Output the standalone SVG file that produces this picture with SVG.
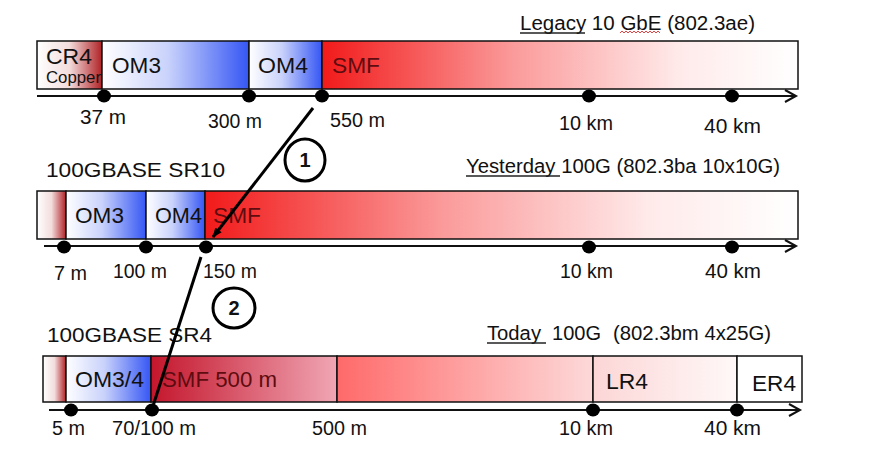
<svg xmlns="http://www.w3.org/2000/svg" width="874" height="466" viewBox="0 0 874 466">
  <defs>
    <linearGradient id="gCu" x1="0" y1="0" x2="1" y2="0">
      <stop offset="0" stop-color="#ffffff"/>
      <stop offset="0.5" stop-color="#f3dcdc"/>
      <stop offset="1" stop-color="#b02226"/>
    </linearGradient>
    <linearGradient id="gOM" x1="0" y1="0" x2="1" y2="0">
      <stop offset="0" stop-color="#ffffff"/>
      <stop offset="0.45" stop-color="#c9d2fb"/>
      <stop offset="1" stop-color="#3556f4"/>
    </linearGradient>
    <linearGradient id="gSMF" x1="0" y1="0" x2="1" y2="0">
      <stop offset="0" stop-color="#f21a1a"/>
      <stop offset="0.4" stop-color="#fb9a9a"/>
      <stop offset="0.75" stop-color="#ffeaea"/>
      <stop offset="1" stop-color="#ffffff"/>
    </linearGradient>
    <linearGradient id="gSMF500" x1="0" y1="0" x2="1" y2="0">
      <stop offset="0" stop-color="#c4162c"/>
      <stop offset="1" stop-color="#f0a6b4"/>
    </linearGradient>
    <linearGradient id="gMid" x1="0" y1="0" x2="1" y2="0">
      <stop offset="0" stop-color="#ff6a6a"/>
      <stop offset="1" stop-color="#fdd9d9"/>
    </linearGradient>
    <linearGradient id="gLR" x1="0" y1="0" x2="1" y2="0">
      <stop offset="0" stop-color="#fcd6d6"/>
      <stop offset="1" stop-color="#fff8f8"/>
    </linearGradient>
    <marker id="ah" viewBox="0 0 10 10" refX="9" refY="5" markerWidth="10" markerHeight="10" markerUnits="userSpaceOnUse" orient="auto">
      <path d="M0,1 L10,5 L0,9 Z" fill="#000"/>
    </marker>
  </defs>
  <style>
    text { font-family: "Liberation Sans", Arial, sans-serif; fill: #111; }
    .seg { stroke: #111; stroke-width: 1.5; }
    .axis { stroke: #111; stroke-width: 2; fill: none; }
    .dot { fill: #000; }
    .lbl { font-size: 20px; }
    .bar { font-size: 22px; }
    .ttl { font-size: 20px; }
    .ul { stroke: #222; stroke-width: 1.3; }
    .smf { fill: #5e0c10; }
    .conn { stroke: #000; stroke-width: 3; fill: none; }
    .badge { fill: #fff; stroke: #000; stroke-width: 3; }
    .num { font-size: 20px; font-weight: bold; text-anchor: middle; }
  </style>

  <!-- Row 1: Legacy 10 GbE -->
  <g id="row-legacy">
    <g id="legacy-title">
      <text class="ttl" x="520" y="30" textLength="235" lengthAdjust="spacingAndGlyphs">Legacy 10 GbE (802.3ae)</text>
      <line class="ul" x1="520" y1="33" x2="585" y2="33"/>
      <path d="M620,33 l2,-2 l2,2 l2,-2 l2,2 l2,-2 l2,2 l2,-2 l2,2 l2,-2 l2,2 l2,-2 l2,2 l2,-2 l2,2 l2,-2 l2,2 l2,-2 l2,2 l2,-2 l2,2" fill="none" stroke="#e03030" stroke-width="0.9"/>
    </g>
    <g id="legacy-cr4">
      <rect class="seg" x="37" y="41" width="65" height="48" fill="url(#gCu)"/>
      <text class="bar" x="46" y="64" textLength="46" lengthAdjust="spacingAndGlyphs">CR4</text>
      <text x="46" y="83" font-size="16" textLength="55" lengthAdjust="spacingAndGlyphs">Copper</text>
    </g>
    <g id="legacy-om3">
      <rect class="seg" x="102" y="41" width="147" height="48" fill="url(#gOM)"/>
      <text class="bar" x="112" y="73" textLength="49" lengthAdjust="spacingAndGlyphs">OM3</text>
    </g>
    <g id="legacy-om4">
      <rect class="seg" x="249" y="41" width="73" height="48" fill="url(#gOM)"/>
      <text class="bar" x="258" y="73" textLength="50" lengthAdjust="spacingAndGlyphs">OM4</text>
    </g>
    <g id="legacy-smf">
      <rect class="seg" x="322" y="41" width="476" height="48" fill="url(#gSMF)"/>
      <text class="bar smf" x="332" y="73" textLength="48" lengthAdjust="spacingAndGlyphs">SMF</text>
    </g>
    <g id="legacy-axis">
      <line class="axis" x1="37" y1="96" x2="796" y2="96"/>
      <polyline class="axis" points="785,90 796,96 785,102"/>
      <ellipse class="dot" cx="104" cy="96" rx="7" ry="6.5"/>
      <ellipse class="dot" cx="249" cy="96" rx="7" ry="6.5"/>
      <ellipse class="dot" cx="322" cy="96" rx="7" ry="6.5"/>
      <ellipse class="dot" cx="589" cy="96" rx="7" ry="6.5"/>
      <ellipse class="dot" cx="732" cy="96" rx="7" ry="6.5"/>
      <text class="lbl" x="80" y="124" textLength="46" lengthAdjust="spacingAndGlyphs">37 m</text>
      <text class="lbl" x="208" y="128" textLength="54" lengthAdjust="spacingAndGlyphs">300 m</text>
      <text class="lbl" x="330" y="127" textLength="55" lengthAdjust="spacingAndGlyphs">550 m</text>
      <text class="lbl" x="559" y="130" textLength="54" lengthAdjust="spacingAndGlyphs">10 km</text>
      <text class="lbl" x="704" y="133" textLength="57" lengthAdjust="spacingAndGlyphs">40 km</text>
    </g>
  </g>

  <!-- Row 2: Yesterday 100G SR10 -->
  <g id="row-sr10">
    <g id="sr10-title">
      <text class="ttl" x="46" y="177" textLength="179" lengthAdjust="spacingAndGlyphs">100GBASE SR10</text>
      <text class="ttl" x="466" y="173" textLength="314" lengthAdjust="spacingAndGlyphs">Yesterday 100G (802.3ba 10x10G)</text>
      <line class="ul" x1="466" y1="176" x2="560" y2="176"/>
    </g>
    <g id="sr10-cu">
      <rect class="seg" x="37" y="191" width="29" height="48" fill="url(#gCu)"/>
    </g>
    <g id="sr10-om3">
      <rect class="seg" x="66" y="191" width="80" height="48" fill="url(#gOM)"/>
      <text class="bar" x="75" y="223" textLength="49" lengthAdjust="spacingAndGlyphs">OM3</text>
    </g>
    <g id="sr10-om4">
      <rect class="seg" x="146" y="191" width="59" height="48" fill="url(#gOM)"/>
      <text class="bar" x="155" y="223" textLength="47" lengthAdjust="spacingAndGlyphs">OM4</text>
    </g>
    <g id="sr10-smf">
      <rect class="seg" x="205" y="191" width="593" height="48" fill="url(#gSMF)"/>
      <text class="bar smf" x="213" y="223" textLength="48" lengthAdjust="spacingAndGlyphs">SMF</text>
    </g>
    <g id="sr10-axis">
      <line class="axis" x1="44" y1="246" x2="796" y2="246"/>
      <polyline class="axis" points="785,240 796,246 785,252"/>
      <ellipse class="dot" cx="64" cy="247" rx="7" ry="6.5"/>
      <ellipse class="dot" cx="146" cy="247" rx="7" ry="6.5"/>
      <ellipse class="dot" cx="206" cy="247" rx="7" ry="6.5"/>
      <ellipse class="dot" cx="589" cy="247" rx="7" ry="6.5"/>
      <ellipse class="dot" cx="732" cy="247" rx="7" ry="6.5"/>
      <text class="lbl" x="54" y="280" textLength="33" lengthAdjust="spacingAndGlyphs">7 m</text>
      <text class="lbl" x="113" y="278" textLength="54" lengthAdjust="spacingAndGlyphs">100 m</text>
      <text class="lbl" x="203" y="278" textLength="54" lengthAdjust="spacingAndGlyphs">150 m</text>
      <text class="lbl" x="560" y="278" textLength="53" lengthAdjust="spacingAndGlyphs">10 km</text>
      <text class="lbl" x="705" y="278" textLength="56" lengthAdjust="spacingAndGlyphs">40 km</text>
    </g>
  </g>

  <!-- Row 3: Today 100G SR4 -->
  <g id="row-sr4">
    <g id="sr4-title">
      <text class="ttl" x="47" y="342" textLength="165" lengthAdjust="spacingAndGlyphs">100GBASE SR4</text>
      <text class="ttl" x="487" y="340" textLength="54" lengthAdjust="spacingAndGlyphs">Today</text>
      <text class="ttl" x="552" y="340" textLength="49" lengthAdjust="spacingAndGlyphs">100G</text>
      <text class="ttl" x="613" y="340" textLength="158" lengthAdjust="spacingAndGlyphs">(802.3bm 4x25G)</text>
      <line class="ul" x1="487" y1="343" x2="546" y2="343"/>
    </g>
    <g id="sr4-cu">
      <rect class="seg" x="43" y="356" width="23" height="46" fill="url(#gCu)"/>
    </g>
    <g id="sr4-om34">
      <rect class="seg" x="66" y="356" width="85" height="46" fill="url(#gOM)"/>
      <text class="bar" x="75" y="387" textLength="69" lengthAdjust="spacingAndGlyphs">OM3/4</text>
    </g>
    <g id="sr4-smf500">
      <rect class="seg" x="151" y="356" width="186" height="46" fill="url(#gSMF500)"/>
      <text class="bar smf" x="162" y="387" textLength="115" lengthAdjust="spacingAndGlyphs">SMF 500 m</text>
    </g>
    <g id="sr4-smf">
      <rect class="seg" x="337" y="356" width="256" height="46" fill="url(#gMid)"/>
    </g>
    <g id="sr4-lr4">
      <rect class="seg" x="593" y="356" width="144" height="46" fill="url(#gLR)"/>
      <text class="bar" x="606" y="389" textLength="42" lengthAdjust="spacingAndGlyphs">LR4</text>
    </g>
    <g id="sr4-er4">
      <rect class="seg" x="737" y="356" width="65" height="46" fill="#ffffff"/>
      <text class="bar" x="752" y="391" textLength="44" lengthAdjust="spacingAndGlyphs">ER4</text>
    </g>
    <g id="sr4-axis">
      <line class="axis" x1="49" y1="410" x2="800" y2="410"/>
      <polyline class="axis" points="789,404 800,410 789,416"/>
      <ellipse class="dot" cx="71" cy="410" rx="7" ry="6.5"/>
      <ellipse class="dot" cx="152" cy="410" rx="7" ry="6.5"/>
      <ellipse class="dot" cx="593" cy="410" rx="7" ry="6.5"/>
      <ellipse class="dot" cx="737" cy="410" rx="7" ry="6.5"/>
      <text class="lbl" x="52" y="435" textLength="33" lengthAdjust="spacingAndGlyphs">5 m</text>
      <text class="lbl" x="112" y="435" textLength="84" lengthAdjust="spacingAndGlyphs">70/100 m</text>
      <text class="lbl" x="312" y="435" textLength="55" lengthAdjust="spacingAndGlyphs">500 m</text>
      <text class="lbl" x="559" y="435" textLength="54" lengthAdjust="spacingAndGlyphs">10 km</text>
      <text class="lbl" x="704" y="435" textLength="57" lengthAdjust="spacingAndGlyphs">40 km</text>
    </g>
  </g>

  <!-- Connectors -->
  <g id="connectors">
    <line class="conn" x1="313" y1="108" x2="213" y2="237" marker-end="url(#ah)"/>
    <line class="conn" x1="201" y1="257" x2="153" y2="406"/>
    <g id="badge-1">
      <ellipse class="badge" cx="305" cy="160" rx="20" ry="21"/>
      <text class="num" x="305" y="167">1</text>
    </g>
    <g id="badge-2">
      <ellipse class="badge" cx="234" cy="308" rx="21" ry="20"/>
      <text class="num" x="234" y="315">2</text>
    </g>
  </g>
</svg>
